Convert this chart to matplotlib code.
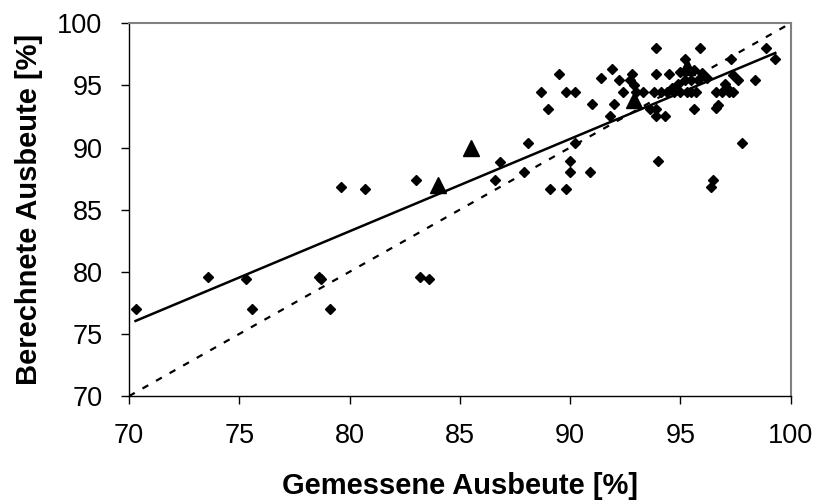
import numpy as np
import matplotlib.pyplot as plt

plt.rcParams['font.family'] = ['Liberation Sans', 'DejaVu Sans']

# measured vs. calculated yield, single experiments
gemessen = [70.3, 73.6, 75.3, 75.6, 78.6, 78.7, 79.1, 79.6, 80.7, 83.0,
            83.2, 83.6, 86.6, 86.8, 87.9, 88.1, 89.1, 89.8, 90.0, 90.0,
            90.9, 90.2, 94.0, 96.4, 96.5, 97.8,
            88.7, 89.0, 89.5, 89.8, 90.2, 91.0, 91.4, 91.8, 91.9, 92.0,
            92.2, 92.7, 92.4, 92.8, 92.9, 93.0, 93.3, 93.6, 93.9, 93.9,
            94.3, 93.9, 93.9, 94.5, 93.8, 94.1, 94.4, 94.7, 94.6, 94.9,
            95.0, 95.3, 95.5, 95.7, 95.0, 95.2, 95.6, 95.9, 95.6, 95.2,
            95.5, 95.8, 96.2, 96.0, 96.6, 96.9, 97.2, 97.4, 97.0, 97.1,
            96.6, 96.7, 97.3, 97.4, 97.6, 98.4, 98.9, 99.3]
berechnet = [77.0, 79.6, 79.4, 77.0, 79.6, 79.4, 77.0, 86.8, 86.7, 87.4,
             79.6, 79.4, 87.4, 88.8, 88.0, 90.4, 86.7, 86.7, 88.9, 88.0,
             88.0, 90.4, 88.9, 86.8, 87.4, 90.4,
             94.5, 93.1, 95.9, 94.5, 94.5, 93.5, 95.6, 92.5, 96.3, 93.5,
             95.4, 95.4, 94.5, 95.9, 95.0, 94.5, 94.5, 93.1, 93.1, 92.5,
             92.5, 98.0, 95.9, 95.9, 94.5, 94.5, 94.5, 94.5, 94.8, 95.1,
             94.5, 94.5, 94.5, 94.5, 96.1, 97.1, 96.2, 98.0, 93.1, 95.4,
             95.4, 95.4, 95.6, 96.0, 94.5, 94.5, 94.5, 94.5, 95.1, 94.8,
             93.2, 93.4, 97.1, 95.8, 95.4, 95.4, 98.0, 97.1]

# mean values
gemessen_mw = [84.0, 85.5, 92.9, 95.3]
berechnet_mw = [87.0, 90.0, 93.8, 96.5]

x = np.array(gemessen)
y = np.array(berechnet)

fig = plt.figure(figsize=(8.16, 5.04), dpi=100)
ax = fig.add_axes([0.158, 0.214, 0.811, 0.740])

# ideal line y = x
ax.plot([70, 100], [70, 100], color='black', linestyle=(0, (3, 4)), linewidth=1.6)

# linear trend over all points
xa = np.concatenate([x, gemessen_mw])
ya = np.concatenate([y, berechnet_mw])
k, d = np.polyfit(xa, ya, 1)
xt = np.array([xa.min(), xa.max()])
ax.plot(xt, k * xt + d, color='black', linewidth=1.8)

ax.plot(x, y, linestyle='none', marker='D', markersize=4.8, color='black')
ax.plot(gemessen_mw, berechnet_mw, linestyle='none', marker='^', markersize=12, color='black')

ax.set_xlim(70, 100)
ax.set_ylim(70, 100)
ax.set_xticks(np.arange(70, 101, 5))
ax.set_yticks(np.arange(70, 101, 5))
ax.tick_params(direction='out', length=6, width=1, labelsize=19.5, pad=13)

for s in ['top', 'right']:
    ax.spines[s].set_color('#808080')
    ax.spines[s].set_linewidth(1.5)
for s in ['left', 'bottom']:
    ax.spines[s].set_color('black')
    ax.spines[s].set_linewidth(1)

ax.set_xlabel('Gemessene Ausbeute [%]', fontsize=21, fontweight='bold', labelpad=17)
ax.set_ylabel('Berechnete Ausbeute [%]', fontsize=21, fontweight='bold', labelpad=10)

fig.savefig('out.png', dpi=100)
